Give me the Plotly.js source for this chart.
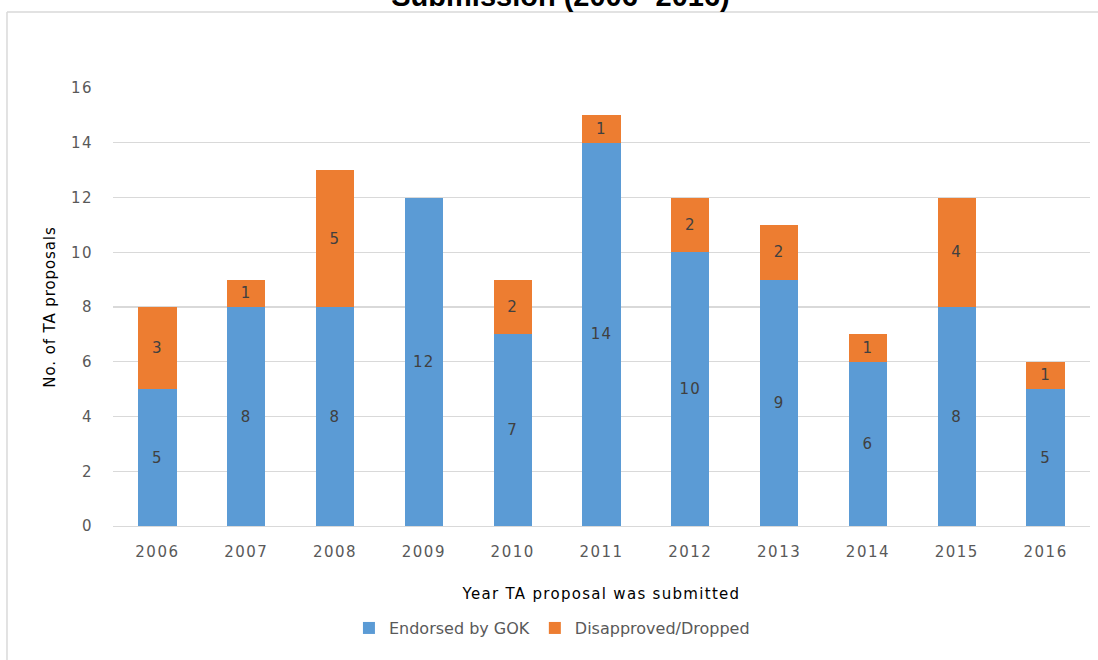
<!DOCTYPE html>
<html>
<head>
<meta charset="utf-8">
<script src="https://cdn.plot.ly/plotly-3.0.1.min.js"></script>
<style>
html,body{margin:0;padding:0;background:#fff;}
#chart{width:1098px;height:660px;}
#chart .xtick text, #chart .ytick text{letter-spacing:1.5px;}
#chart .bartext{letter-spacing:1.3px;}
#chart .g-xtitle text{letter-spacing:1.3px;}
#chart .g-ytitle text{letter-spacing:0.9px;}
</style>
</head>
<body>
<div id="chart"></div>
<script>
const years = ['2006','2007','2008','2009','2010','2011','2012','2013','2014','2015','2016'];
const endorsed = [5, 8, 8, 12, 7, 14, 10, 9, 6, 8, 5];
const dropped = [3, 1, 5, null, 2, 1, 2, 2, 1, 4, 1];
const seriesNames = ['Endorsed by GOK', 'Disapproved/Dropped'];
const yTicks = [0, 2, 4, 6, 8, 10, 12, 14, 16];

const tickFont = {family: 'DejaVu Sans, sans-serif', size: 15, color: '#595959'};
const labelFont = {family: 'DejaVu Sans, sans-serif', size: 15, color: '#404040'};

const traces = [
  {type: 'bar', name: seriesNames[0], x: years, y: endorsed, marker: {color: '#5B9BD5'},
   text: endorsed.map(String), textposition: 'inside', insidetextanchor: 'middle',
   textfont: labelFont, constraintext: 'none', hoverinfo: 'x+y+name'},
  {type: 'bar', name: seriesNames[1], x: years, y: dropped, marker: {color: '#ED7D31'},
   text: dropped.map(v => v == null ? '' : String(v)), textposition: 'inside', insidetextanchor: 'middle',
   textfont: labelFont, constraintext: 'none', hoverinfo: 'x+y+name'}
];

const layout = {
  width: 1098, height: 660,
  paper_bgcolor: '#ffffff', plot_bgcolor: '#ffffff',
  barmode: 'stack', bargap: 0.57,
  margin: {l: 113, r: 8, t: 88, b: 134},
  title: {text: '<b>Submission (2006- 2016)</b>', x: 0.5105, xanchor: 'center', y: 0.9905, yref: 'container', yanchor: 'bottom',
          font: {family: 'Liberation Sans, Arial, sans-serif', size: 29, color: '#000000'}},
  xaxis: {type: 'category', tickfont: tickFont, ticklabelstandoff: 12, showgrid: false,
          showline: true, linecolor: '#d9d9d9', linewidth: 1, ticks: '',
          title: {text: 'Year TA proposal was submitted', standoff: 28,
                  font: {family: 'DejaVu Sans, sans-serif', size: 15, color: '#000000'}}},
  yaxis: {range: [0, 16], tickvals: yTicks, ticktext: yTicks.map(String), tickfont: tickFont,
          ticklabelstandoff: 19, showgrid: true, gridcolor: '#d9d9d9', gridwidth: 1.3, zeroline: false,
          title: {text: 'No. of TA proposals', standoff: 14,
                  font: {family: 'DejaVu Sans, sans-serif', size: 15, color: '#000000'}}},
  showlegend: true,
  legend: {orientation: 'h', x: 0.2415, xanchor: 'left', y: -0.233, yanchor: 'middle',
           font: {family: 'DejaVu Sans, sans-serif', size: 16, color: '#595959'}, traceorder: 'normal'},
  shapes: [
    {type: 'line', xref: 'paper', yref: 'paper', x0: -0.1085, x1: 1.01, y0: 1.1735, y1: 1.1735, line: {color: '#d9d9d9', width: 1.5}},
    {type: 'line', xref: 'paper', yref: 'paper', x0: -0.1085, x1: -0.1085, y0: 1.1735, y1: -0.31, line: {color: '#d9d9d9', width: 1.5}}
  ]
};

Plotly.newPlot('chart', traces, layout, {displayModeBar: false, staticPlot: true});
</script>
</body>
</html>
